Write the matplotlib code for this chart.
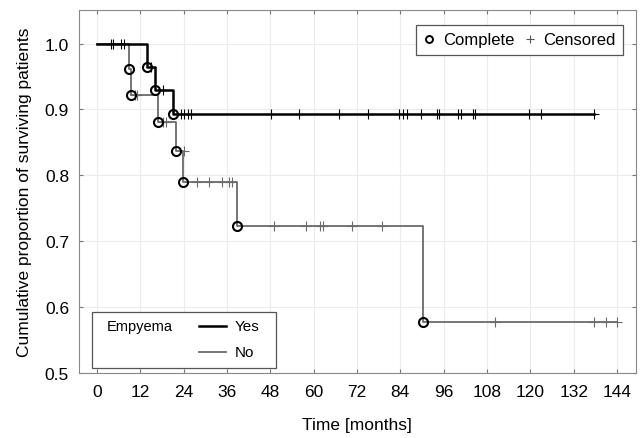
import matplotlib.pyplot as plt
from matplotlib.lines import Line2D
from matplotlib.patches import Rectangle

plt.rcParams['font.family'] = ['Liberation Sans', 'DejaVu Sans']

# Kaplan-Meier steps (time in months, surviving proportion)
yes_times = [0, 14, 16, 21, 137.7]
yes_surv = [1.0, 0.964, 0.929, 0.893, 0.893]
yes_event_times = [14, 16, 21]
yes_event_surv = [0.964, 0.929, 0.893]
yes_cens_times = [3.8, 4.5, 6.8, 7.6, 15.0, 18.2,
                  23.3, 24.2, 25.1, 26.0, 48.2, 56.0, 67.1, 75.0, 83.6, 84.6, 85.8,
                  89.7, 94.1, 94.8, 100.0, 100.8, 104.0, 104.8, 119.7, 123.0, 137.7]
yes_cens_surv = [1.0, 1.0, 1.0, 1.0, 0.964, 0.929] + [0.893] * 21

no_times = [0, 8.9, 9.4, 16.8, 21.8, 23.8, 38.9, 90.2, 144]
no_surv = [1.0, 0.961, 0.922, 0.881, 0.837, 0.790, 0.723, 0.578, 0.578]
no_event_times = [8.9, 9.4, 16.8, 21.8, 23.8, 38.9, 90.2]
no_event_surv = [0.961, 0.922, 0.881, 0.837, 0.790, 0.723, 0.578]
no_cens_times = [10.5, 11.1, 18.4, 19.0, 24.2,
                 27.6, 31.1, 34.5, 36.6, 37.3,
                 49.0, 57.8, 61.8, 62.7, 70.7, 79.0,
                 110.1, 137.7, 140.8, 144.0]
no_cens_surv = [0.922, 0.922, 0.881, 0.881, 0.837] + [0.790] * 5 + [0.723] * 6 + [0.578] * 4

xticks = list(range(0, 145, 12))
yticks = [0.5, 0.6, 0.7, 0.8, 0.9, 1.0]

fig = plt.figure(figsize=(6.41, 4.39), dpi=100)
ax = fig.add_axes([0.123, 0.148, 0.869, 0.827])

yes_col = 'black'
no_col = '#6a6a6a'

ax.step(no_times, no_surv, where='post', color=no_col, lw=1.3, zorder=3)
ax.step(yes_times, yes_surv, where='post', color=yes_col, lw=1.8, zorder=4)

ax.plot(no_cens_times, no_cens_surv, ls='none', marker='+', ms=7, mew=0.8,
        color=no_col, zorder=5)
ax.plot(yes_cens_times, yes_cens_surv, ls='none', marker='+', ms=7, mew=0.8,
        color=yes_col, zorder=5)
ax.plot(no_event_times, no_event_surv, ls='none', marker='o', ms=6.5, mew=1.5,
        mfc='none', mec='black', zorder=6)
ax.plot(yes_event_times, yes_event_surv, ls='none', marker='o', ms=6.5, mew=1.5,
        mfc='none', mec='black', zorder=6)

ax.set_xlim(-5, 149.2)
ax.set_ylim(0.5, 1.051)
ax.set_xticks(xticks)
ax.set_yticks(yticks)
ax.set_yticklabels(['%.1f' % v for v in yticks])
ax.grid(True, color='#ececec', lw=0.8, zorder=0)
ax.tick_params(direction='in', length=3, width=0.8, color='#777777',
               top=True, right=True, labelsize=12.5)
ax.tick_params(axis='x', pad=8)
ax.tick_params(axis='y', pad=7)
for s in ax.spines.values():
    s.set_color('#888888')
    s.set_linewidth(0.8)

ax.set_xlabel('Time [months]', fontsize=12.5, labelpad=13)
ax.set_ylabel('Cumulative proportion of surviving patients', fontsize=12.5, labelpad=9)

# marker legend (top right)
h_c = Line2D([], [], ls='none', marker='o', ms=5, mew=1.4, mfc='none', mec='black')
h_p = Line2D([], [], ls='none', marker='+', ms=6, mew=0.8, color='#555555')
leg1 = ax.legend([h_c, h_p], ['Complete', 'Censored'], ncol=2, loc='upper right',
                 bbox_to_anchor=(0.977, 0.959), fontsize=12, frameon=True,
                 fancybox=False, edgecolor='#555555', framealpha=1,
                 handlelength=0.7, handletextpad=0.45, columnspacing=0.6,
                 borderpad=0.45, borderaxespad=0.0)
leg1.get_frame().set_linewidth(0.9)

# group legend (bottom left), drawn in axes coordinates
ax.add_patch(Rectangle((0.024, 0.014), 0.33, 0.154, transform=ax.transAxes,
                       facecolor='white', edgecolor='#555555', lw=0.9, zorder=7))
ax.text(0.05, 0.13, 'Empyema', transform=ax.transAxes, fontsize=10.5,
        va='center', ha='left', zorder=8)
ax.add_line(Line2D([0.215, 0.265], [0.13, 0.13], transform=ax.transAxes,
                   color=yes_col, lw=1.8, zorder=8))
ax.add_line(Line2D([0.215, 0.265], [0.057, 0.057], transform=ax.transAxes,
                   color=no_col, lw=1.3, zorder=8))
ax.text(0.28, 0.13, 'Yes', transform=ax.transAxes, fontsize=11,
        va='center', ha='left', zorder=8)
ax.text(0.28, 0.057, 'No', transform=ax.transAxes, fontsize=11,
        va='center', ha='left', zorder=8)

fig.savefig('out.png', dpi=100)
